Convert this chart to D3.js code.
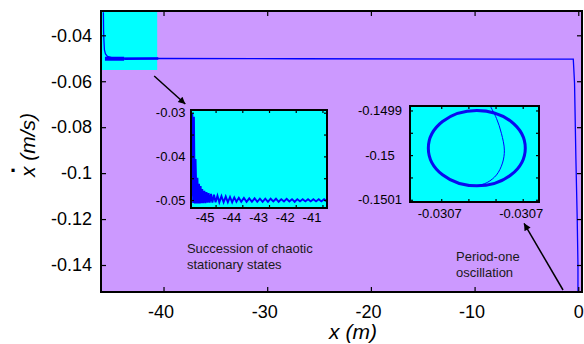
<!DOCTYPE html>
<html>
<head>
<meta charset="utf-8">
<script src="https://cdn.jsdelivr.net/npm/d3@7"></script>
<style>
  html, body { margin: 0; padding: 0; background: #fff; }
  svg { display: block; }
  text { font-family: "Liberation Sans", Arial, sans-serif; }
</style>
</head>
<body>
<svg id="chart" width="584" height="344"></svg>
<script>
// ---- main phase portrait: x (m) vs x-dot (m/s) ----
const mainXDomain = [-46.03, 0.36];
const mainYDomain = [-0.15175, -0.02942];
const mainX = [-45.80, -45.78, -45.75, -45.70, -45.60, -45.41, -45.02, -44.25, -40.39, -26.86, -0.48, -0.36, -0.23, -0.10, -0.03, -0.03];
const mainY = [-0.0300, -0.0380, -0.0420, -0.0464, -0.0481, -0.0492, -0.0497, -0.0499, -0.0501, -0.0502, -0.0504, -0.0608, -0.0934, -0.1204, -0.1400, -0.1520];
// noisy (chaotic) band along the trace
const bandX = [-45.65, -43.8, -40.5];
const bandY = [-0.0502, -0.0502, -0.0501];
// highlighted zoom region
const zoomRegionX = [-46.03, -40.61];
const zoomRegionY = [-0.0551, -0.0294];
const mainXTicks = [-40, -30, -20, -10, 0];
const mainXLabels = ['-40', '-30', '-20', '-10', '0'];
const mainYTicks = [-0.04, -0.06, -0.08, -0.1, -0.12, -0.14];
const mainYLabels = ['-0.04', '-0.06', '-0.08', '-0.1', '-0.12', '-0.14'];

// ---- inset A: succession of chaotic stationary states ----
const insetAXDomain = [-45.92, -40.83];
const insetAYDomain = [-0.05182, -0.02938];
const insetATrace = [
  [-45.91, -0.0491], [-45.87, -0.0301], [-45.84, -0.0507], [-45.81, -0.0309],
  [-45.78, -0.0508], [-45.75, -0.0406], [-45.71, -0.0508], [-45.68, -0.0449],
  [-45.65, -0.0508], [-45.62, -0.0463], [-45.59, -0.0508], [-45.56, -0.0468],
  [-45.53, -0.0507], [-45.50, -0.0475], [-45.46, -0.0507], [-45.42, -0.0479],
  [-45.38, -0.0507], [-45.34, -0.0482], [-45.30, -0.0506], [-45.26, -0.0484],
  [-45.22, -0.0506], [-45.17, -0.0486], [-45.12, -0.0506], [-45.06, -0.0488],
  [-45.00, -0.0505], [-44.93, -0.0490], [-44.86, -0.0505], [-44.78, -0.0491],
  [-44.70, -0.0505], [-44.62, -0.0492], [-44.54, -0.0505], [-44.46, -0.0493],
  [-44.38, -0.0505], [-44.30, -0.0494], [-44.22, -0.0504], [-44.13, -0.0495],
  [-44.04, -0.0504], [-43.94, -0.0495], [-43.84, -0.0504], [-43.74, -0.0496],
  [-43.64, -0.0504], [-43.54, -0.0496], [-43.44, -0.0504], [-43.34, -0.0497],
  [-43.24, -0.0504], [-43.14, -0.0497], [-43.04, -0.0504], [-42.94, -0.0497],
  [-42.84, -0.0503], [-42.74, -0.0497], [-42.64, -0.0504], [-42.54, -0.0498],
  [-42.44, -0.0503], [-42.34, -0.0497], [-42.24, -0.0503], [-42.14, -0.0498],
  [-42.04, -0.0504], [-41.94, -0.0498], [-41.84, -0.0503], [-41.74, -0.0498],
  [-41.64, -0.0503], [-41.54, -0.0498], [-41.44, -0.0503], [-41.34, -0.0498],
  [-41.24, -0.0503], [-41.14, -0.0498], [-41.04, -0.0503], [-40.94, -0.0498],
  [-40.84, -0.0503], [-40.74, -0.0499]
];
const insetAXTicks = [-45, -44, -43, -42, -41];
const insetAXLabels = ['-45', '-44', '-43', '-42', '-41'];
const insetAYTicks = [-0.03, -0.035, -0.04, -0.045, -0.05];
const insetAYLabels = ['-0.03', '', '-0.04', '', '-0.05'];

// ---- inset B: period-one oscillation ----
const insetBXDomain = [-0.030743, -0.030648];
const insetBYDomain = [-0.150105, -0.14989];
const cycleCenter = [-0.0306938, -0.1499844];
const cycleRadius = [0.0000357, 0.0000844];
const approachTrace = [
  [-0.0306845, -0.1498867], [-0.0306793, -0.1499178], [-0.0306757, -0.1499511],
  [-0.0306735, -0.1499889], [-0.0306749, -0.1500178], [-0.0306793, -0.1500444],
  [-0.0306860, -0.1500611], [-0.0306933, -0.1500689]
];
const insetBXTicks = [-0.03072, -0.03070, -0.03068, -0.03066];
const insetBXLabels = ['-0.0307', '', '', '-0.0307'];
const insetBYTicks = [-0.1499, -0.14995, -0.15, -0.15005, -0.1501];
const insetBYLabels = ['-0.1499', '', '-0.15', '', '-0.1501'];

// annotations (main data coordinates)
const arrowA = [[-40.90, -0.05772], [-37.90, -0.06991]];
const arrowB = [[-1.47, -0.15088], [-5.23, -0.12185]];
const noteA = { x: -37.74, y: -0.13478, lines: ['Succession of chaotic', 'stationary states'] };
const noteB = { x: -11.79, y: -0.13826, lines: ['Period-one', 'oscillation'] };

const purple = '#cc99ff';
const cyan = '#00ffff';
const blue = '#0000ff';

const svg = d3.select('#chart');
const defs = svg.append('defs');

defs.append('marker')
  .attr('id', 'head')
  .attr('viewBox', '0 0 10 10')
  .attr('refX', 10).attr('refY', 5)
  .attr('markerUnits', 'userSpaceOnUse')
  .attr('markerWidth', 9).attr('markerHeight', 7)
  .attr('orient', 'auto')
  .append('path').attr('d', 'M0,0L10,5L0,10z').attr('fill', '#000');

const mainBox = { x: 101, y: 11, w: 481, h: 281 };
const boxA = { x: 191, y: 110, w: 136, h: 98 };
const boxB = { x: 410, y: 106, w: 129, h: 96 };

function scales(box, xd, yd) {
  return {
    x: d3.scaleLinear().domain(xd).range([box.x, box.x + box.w]),
    y: d3.scaleLinear().domain(yd).range([box.y + box.h, box.y])
  };
}

function clip(id, box) {
  defs.append('clipPath').attr('id', id)
    .append('rect').attr('x', box.x).attr('y', box.y).attr('width', box.w).attr('height', box.h);
  return `url(#${id})`;
}

function axes(box, x, y, o) {
  const g = svg.append('g');
  const style = sel => {
    sel.select('.domain').remove();
    sel.selectAll('.tick line').attr('stroke', '#000').attr('stroke-width', 1.2);
    sel.selectAll('text').attr('fill', '#000').style('font-size', o.font + 'px')
      .style('font-family', '"Liberation Sans", Arial, sans-serif');
  };
  const bottom = g.append('g').attr('transform', `translate(0,${box.y + box.h})`)
    .call(d3.axisBottom(x).tickValues(o.xTicks).tickSize(-o.tick).tickPadding(o.xPad)
      .tickFormat((d, i) => o.xLabels[i]));
  style(bottom);
  bottom.selectAll('text').attr('dx', (d, i) => o.xShift(o.xLabels[i]));
  const top = g.append('g').attr('transform', `translate(0,${box.y})`)
    .call(d3.axisTop(x).tickValues(o.xTicks).tickSize(-o.tick).tickFormat(''));
  style(top);
  const left = g.append('g').attr('transform', `translate(${box.x},0)`)
    .call(d3.axisLeft(y).tickValues(o.yTicks).tickSize(-o.tick).tickPadding(o.yPad)
      .tickFormat((d, i) => o.yLabels[i]));
  style(left);
  if (o.yCenter) left.selectAll('text').attr('text-anchor', 'middle').attr('x', -o.yCenter);
  const right = g.append('g').attr('transform', `translate(${box.x + box.w},0)`)
    .call(d3.axisRight(y).tickValues(o.yTicks).tickSize(-o.tick).tickFormat(''));
  style(right);
  g.append('rect').attr('x', box.x).attr('y', box.y).attr('width', box.w).attr('height', box.h)
    .attr('fill', 'none').attr('stroke', '#000').attr('stroke-width', 2);
}

// ---------- main panel ----------
const m = scales(mainBox, mainXDomain, mainYDomain);
const mainG = svg.append('g').attr('clip-path', clip('clipMain', mainBox));
mainG.append('rect').attr('x', mainBox.x).attr('y', mainBox.y)
  .attr('width', mainBox.w).attr('height', mainBox.h).attr('fill', purple);
mainG.append('rect')
  .attr('x', m.x(zoomRegionX[0])).attr('y', m.y(zoomRegionY[1]))
  .attr('width', m.x(zoomRegionX[1]) - m.x(zoomRegionX[0]))
  .attr('height', m.y(zoomRegionY[0]) - m.y(zoomRegionY[1]))
  .attr('fill', cyan);

const bandWidths = [4, 2.5];
for (let i = 0; i < bandX.length - 1; i++) {
  mainG.append('line')
    .attr('x1', m.x(bandX[i])).attr('y1', m.y(bandY[i]))
    .attr('x2', m.x(bandX[i + 1])).attr('y2', m.y(bandY[i + 1]))
    .attr('stroke', blue).attr('stroke-width', bandWidths[i]);
}
mainG.append('path')
  .datum(d3.range(mainX.length))
  .attr('fill', 'none').attr('stroke', blue).attr('stroke-width', 1.3)
  .attr('d', d3.line().x(i => m.x(mainX[i])).y(i => m.y(mainY[i])));

axes(mainBox, m.x, m.y, {
  xTicks: mainXTicks, xLabels: mainXLabels, yTicks: mainYTicks, yLabels: mainYLabels,
  tick: 5, font: 18, xPad: 13.5, yPad: 9, xShift: l => l.startsWith('-') ? -3 : 0
});

// ---------- inset A ----------
const a = scales(boxA, insetAXDomain, insetAYDomain);
const aG = svg.append('g').attr('clip-path', clip('clipA', boxA));
aG.append('rect').attr('x', boxA.x).attr('y', boxA.y).attr('width', boxA.w).attr('height', boxA.h).attr('fill', cyan);
aG.append('path').datum(insetATrace)
  .attr('fill', 'none').attr('stroke', blue).attr('stroke-width', 1.9)
  .attr('d', d3.line().x(d => a.x(d[0])).y(d => a.y(d[1])));
axes(boxA, a.x, a.y, {
  xTicks: insetAXTicks, xLabels: insetAXLabels, yTicks: insetAYTicks, yLabels: insetAYLabels,
  tick: 3, font: 13, xPad: 5, yPad: 5.5, xShift: () => -11
});

// ---------- inset B ----------
const b = scales(boxB, insetBXDomain, insetBYDomain);
const bG = svg.append('g').attr('clip-path', clip('clipB', boxB));
bG.append('rect').attr('x', boxB.x).attr('y', boxB.y).attr('width', boxB.w).attr('height', boxB.h).attr('fill', cyan);
const ecx = b.x(cycleCenter[0]), ecy = b.y(cycleCenter[1]);
bG.append('ellipse')
  .attr('cx', ecx).attr('cy', ecy)
  .attr('rx', b.x(cycleCenter[0] + cycleRadius[0]) - ecx)
  .attr('ry', ecy - b.y(cycleCenter[1] + cycleRadius[1]))
  .attr('fill', 'none').attr('stroke', '#0a0af0').attr('stroke-width', 3);
bG.append('path').datum(approachTrace)
  .attr('fill', 'none').attr('stroke', blue).attr('stroke-width', 1)
  .attr('d', d3.line().curve(d3.curveCatmullRom).x(d => b.x(d[0])).y(d => b.y(d[1])));
axes(boxB, b.x, b.y, {
  xTicks: insetBXTicks, xLabels: insetBXLabels, yTicks: insetBYTicks, yLabels: insetBYLabels,
  tick: 3, font: 13, xPad: 6.5, yPad: 8, yCenter: 30, xShift: () => -2
});

// ---------- annotations ----------
[arrowA, arrowB].forEach(ar => {
  svg.append('line')
    .attr('x1', m.x(ar[0][0])).attr('y1', m.y(ar[0][1]))
    .attr('x2', m.x(ar[1][0])).attr('y2', m.y(ar[1][1]))
    .attr('stroke', '#000').attr('stroke-width', 1.5)
    .attr('marker-end', 'url(#head)');
});
[noteA, noteB].forEach(n => {
  const t = svg.append('text').attr('x', m.x(n.x)).attr('y', m.y(n.y))
    .style('font-size', '13px').attr('fill', '#1a1a1a');
  n.lines.forEach((l, i) => t.append('tspan').attr('x', m.x(n.x)).attr('dy', i ? 16 : 0).text(l));
});

// ---------- axis titles ----------
svg.append('text').attr('x', 353).attr('y', 339).attr('text-anchor', 'middle')
  .style('font-size', '21px').style('font-style', 'italic').text('x (m)');
svg.append('text').attr('transform', 'translate(35,145) rotate(-90)').attr('text-anchor', 'middle')
  .style('font-size', '21px').style('font-style', 'italic').text('x (m/s)');
svg.append('text').attr('x', 13).attr('y', 172).attr('text-anchor', 'middle')
  .style('font-size', '22px').style('font-weight', 'bold').text('.');
</script>
</body>
</html>
